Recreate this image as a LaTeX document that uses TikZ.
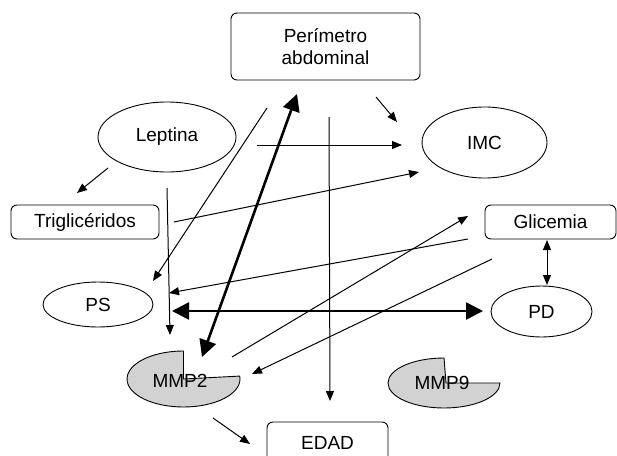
\documentclass[tikz,border=0pt]{standalone}
\usepackage{fontspec}
\setmainfont{Liberation Sans}
\usetikzlibrary{shapes.geometric,arrows.meta}
\begin{document}
\begin{tikzpicture}[x=1pt,y=-1pt,
  lbl/.style={font=\fontsize{19}{22}\selectfont},
  rbox/.style={draw,rounded corners=6pt,line width=0.9pt,inner sep=0pt,lbl},
  ell/.style={draw,ellipse,line width=0.9pt,inner sep=0pt,lbl},
  pie/.style={draw,line width=0.9pt,fill=gray!35},
  thinarr/.style={line width=1pt,-{Triangle[length=10pt,width=8pt]}},
  thinboth/.style={line width=1pt,{Triangle[length=10pt,width=8pt]}-{Triangle[length=10pt,width=8pt]}},
  thickboth/.style={line width=2.6pt,{Triangle[length=17pt,width=17pt]}-{Triangle[length=17pt,width=17pt]}},
]
\useasboundingbox (0,0) rectangle (617,455);
% nodes
\node[rbox,minimum width=189pt,minimum height=67pt,align=center] (per) at (325.5,46.5) {Perímetro\\abdominal};
\node[ell,minimum width=138pt,minimum height=70pt] (lep) at (167,137) {Leptina};
\node[ell,minimum width=125pt,minimum height=71pt] (imc) at (484.5,142.5) {IMC};
\node[rbox,minimum width=148pt,minimum height=34pt] (tri) at (85,222) {Triglicéridos};
\node[ell,minimum width=110pt,minimum height=45pt] (ps) at (98,304.5) {PS};
\node[rbox,minimum width=131pt,minimum height=34pt] (gli) at (550.5,222) {Glicemia};
\node[ell,minimum width=101pt,minimum height=51pt] (pd) at (541.5,311.5) {PD};
\node[rbox,minimum width=121pt,minimum height=42pt] (edad) at (327.5,443) {EDAD};
% pies
\draw[pie] (183.5,379) -- ++(-6:56.5 and 28) arc[start angle=-6,end angle=270,x radius=56.5,y radius=28] -- cycle;
\node[lbl] (mmp2) at (180,381) {MMP2};
\draw[pie] (446,383) -- ++(0:54 and 25) arc[start angle=0,end angle=270,x radius=56,y radius=25] -- cycle;
\node[lbl] (mmp9) at (442,383) {MMP9};
% connector end points
\coordinate (a1) at (376,97);  \coordinate (b1) at (397,122);
\coordinate (a2) at (257,145); \coordinate (b2) at (402,145);
\coordinate (a3) at (108,168); \coordinate (b3) at (77,193);
\coordinate (a4) at (167,188); \coordinate (b4) at (170,335);
\coordinate (a5) at (267,108); \coordinate (b5) at (153,281);
\coordinate (a6) at (297,94);  \coordinate (b6) at (202,357);
\coordinate (a7) at (329,117); \coordinate (b7) at (330,401);
\coordinate (a8) at (174,222); \coordinate (b8) at (419,172);
\coordinate (a9) at (468,239); \coordinate (b9) at (169,293);
\coordinate (a10) at (172,311); \coordinate (b10) at (483,311);
\coordinate (a11) at (547,240); \coordinate (b11) at (547,285);
\coordinate (a12) at (232,357); \coordinate (b12) at (468,216);
\coordinate (a13) at (492,259); \coordinate (b13) at (252,374);
\coordinate (a14) at (213,418); \coordinate (b14) at (250,444);
% connectors
\draw[thinarr] (a1) -- (b1);
\draw[thinarr] (a2) -- (b2);
\draw[thinarr] (a3) -- (b3);
\draw[thinarr] (a4) -- (b4);
\draw[thinarr] (a5) -- (b5);
\draw[thickboth] (a6) -- (b6);
\draw[thinarr] (a7) -- (b7);
\draw[thinarr] (a8) -- (b8);
\draw[thinarr] (a9) -- (b9);
\draw[thickboth] (a10) -- (b10);
\draw[thinboth] (a11) -- (b11);
\draw[thinarr] (a12) -- (b12);
\draw[thinarr] (a13) -- (b13);
\draw[thinarr] (a14) -- (b14);
\end{tikzpicture}
\end{document}
